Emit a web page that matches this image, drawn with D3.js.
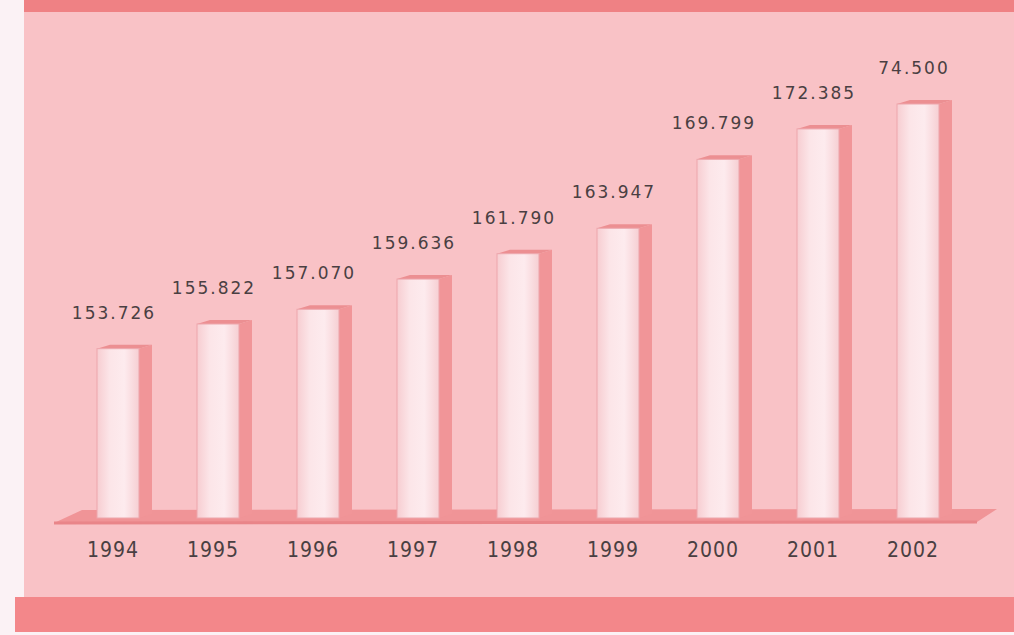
<!DOCTYPE html>
<html>
<head>
<meta charset="utf-8">
<script src="https://cdn.jsdelivr.net/npm/d3@7"></script>
<style>
  html, body { margin: 0; padding: 0; background: #fbf2f5; }
  svg { display: block; }
</style>
</head>
<body>
<svg id="chart"></svg>
<script>
// data
const years = ["1994", "1995", "1996", "1997", "1998", "1999", "2000", "2001", "2002"];
const values = [153.726, 155.822, 157.070, 159.636, 161.790, 163.947, 169.799, 172.385, 174.500];
const valueLabels = ["153.726", "155.822", "157.070", "159.636", "161.790", "163.947", "169.799", "172.385", "74.500"];

// config
const W = 1014, H = 635;
const base = 518;          // floor line
const barW = 42, depthX = 13, depthY = -4;

const svg = d3.select("#chart").attr("width", W).attr("height", H);

const defs = svg.append("defs");
const grad = defs.append("linearGradient").attr("id", "front").attr("x1", "0").attr("x2", "1");
grad.append("stop").attr("offset", "0%").attr("stop-color", "#f7cdd1");
grad.append("stop").attr("offset", "30%").attr("stop-color", "#fce5e8");
grad.append("stop").attr("offset", "65%").attr("stop-color", "#fdebee");
grad.append("stop").attr("offset", "100%").attr("stop-color", "#f6cfd3");

// background panel + bands
svg.append("rect").attr("x", 0).attr("y", 0).attr("width", 24).attr("height", H).attr("fill", "#fbf2f5");
svg.append("rect").attr("x", 24).attr("y", 0).attr("width", W - 24).attr("height", 597).attr("fill", "#f9c2c6");
svg.append("rect").attr("x", 24).attr("y", 0).attr("width", W - 24).attr("height", 12).attr("fill", "#ef8184");
svg.append("rect").attr("x", 15).attr("y", 597).attr("width", W - 15).attr("height", 35).attr("fill", "#f3878a");

// scales
const x = d3.scalePoint().domain(years).range([118, 918]);
const y = d3.scaleLinear().domain([139.35, 174.5]).range([base, 104]);

// floor
const x0 = x(years[0]) - barW / 2, x1 = x(years[years.length - 1]) + barW / 2;
svg.append("polygon")
  .attr("points", [[x0 - 43, base + 5], [x0 - 15, base - 8], [x1 + 58, base - 9], [x1 + 38, base + 4]].map(p => p.join(",")).join(" "))
  .attr("fill", "#f09497");
svg.append("line")
  .attr("x1", x0 - 43).attr("y1", base + 5).attr("x2", x1 + 38).attr("y2", base + 4)
  .attr("stroke", "#e98589").attr("stroke-width", 3);

const bars = svg.selectAll(".bar").data(years.map((k, i) => ({key: k, value: values[i], label: valueLabels[i]})))
  .join("g").attr("class", "bar");

// side face
bars.append("polygon")
  .attr("points", d => {
    const l = x(d.key) + barW / 2, t = y(d.value);
    return [[l, t], [l + depthX, t + depthY], [l + depthX, base + depthY], [l, base]].map(p => p.join(",")).join(" ");
  })
  .attr("fill", "#f19598");
// top face
bars.append("polygon")
  .attr("points", d => {
    const l = x(d.key) - barW / 2, t = y(d.value);
    return [[l, t], [l + depthX, t + depthY], [l + barW + depthX, t + depthY], [l + barW, t]].map(p => p.join(",")).join(" ");
  })
  .attr("fill", "#ec8f92");
// front face
bars.append("rect")
  .attr("x", d => x(d.key) - barW / 2)
  .attr("y", d => y(d.value))
  .attr("width", barW)
  .attr("height", d => base - y(d.value))
  .attr("fill", "url(#front)")
  .attr("stroke", "#eda6ac").attr("stroke-width", 1);

// value labels
bars.append("text")
  .attr("x", d => x(d.key) - 4)
  .attr("y", d => y(d.value) - 30)
  .attr("text-anchor", "middle")
  .attr("font-family", "DejaVu Sans")
  .attr("font-size", 17)
  .attr("letter-spacing", 2)
  .attr("fill", "#4a3f42")
  .text(d => d.label);

// year axis labels
svg.append("g").selectAll("text").data(years).join("text")
  .attr("x", d => x(d) - 5)
  .attr("y", 557)
  .attr("text-anchor", "middle")
  .attr("font-family", "DejaVu Sans Condensed")
  .attr("font-size", 21)
  .attr("letter-spacing", 1)
  .attr("fill", "#4a3f42")
  .text(d => d);
</script>
</body>
</html>
